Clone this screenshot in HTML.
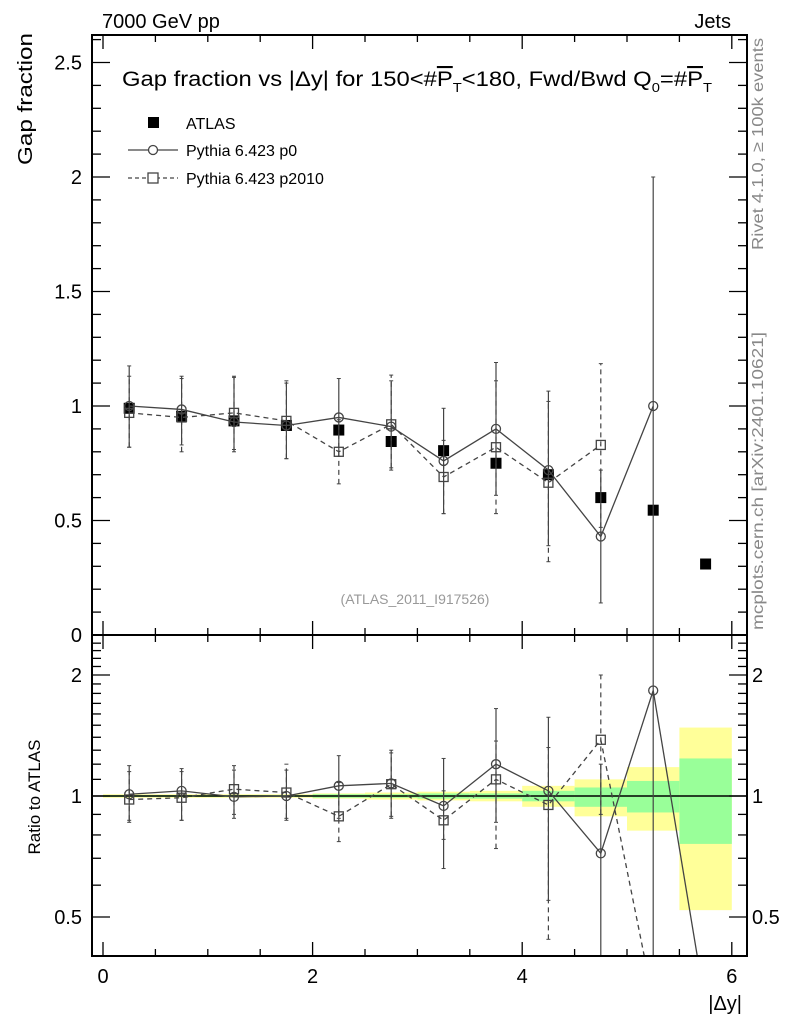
<!DOCTYPE html>
<html><head><meta charset="utf-8"><style>
html,body{margin:0;padding:0;background:#fff;overflow:hidden;width:786px;height:1024px;}
svg{display:block;font-family:"Liberation Sans",sans-serif;}
</style></head><body>
<svg id="chart" width="786" height="1024" viewBox="0 0 786 1024" xmlns="http://www.w3.org/2000/svg">
<g id="bands"></g>
<g id="marks"></g>
<g id="axes"></g>
<text x="102" y="28" font-size="20">7000 GeV pp</text>
<text x="731" y="28" font-size="20" text-anchor="end">Jets</text>
<text x="122" y="86" font-size="21" textLength="590" lengthAdjust="spacingAndGlyphs">Gap fraction vs |Δy| for 150&lt;#<tspan text-decoration="overline">P</tspan><tspan font-size="13" dy="6">T</tspan><tspan dy="-6">&lt;180, Fwd/Bwd Q</tspan><tspan font-size="13" dy="6">0</tspan><tspan dy="-6">=#</tspan><tspan text-decoration="overline">P</tspan><tspan font-size="13" dy="6">T</tspan></text>
<text transform="translate(32,165) rotate(-90)" font-size="20" textLength="132" lengthAdjust="spacingAndGlyphs">Gap fraction</text>
<text transform="translate(40,797) rotate(-90)" font-size="17" text-anchor="middle">Ratio to ATLAS</text>
<text x="742" y="1010" font-size="20" text-anchor="end">|Δy|</text>
<text x="415" y="604" font-size="14" fill="#999" text-anchor="middle">(ATLAS_2011_I917526)</text>
<text transform="translate(763,38) rotate(-90)" font-size="16" fill="#888" text-anchor="end" textLength="212" lengthAdjust="spacingAndGlyphs">Rivet 4.1.0, ≥ 100k events</text>
<text transform="translate(763,332) rotate(-90)" font-size="16" fill="#888" text-anchor="end" textLength="298" lengthAdjust="spacingAndGlyphs">mcplots.cern.ch [arXiv:2401.10621]</text>
<g>
<rect x="148" y="117" width="11" height="11" fill="#000"/>
<text x="186" y="129" font-size="16">ATLAS</text>
<line x1="128" y1="150" x2="178" y2="150" stroke="#444" stroke-width="1.3"/>
<circle cx="153" cy="150" r="4.5" fill="#fff" stroke="#444" stroke-width="1.3"/>
<text x="186" y="156" font-size="16">Pythia 6.423 p0</text>
<line x1="128" y1="178" x2="178" y2="178" stroke="#444" stroke-width="1.3" stroke-dasharray="4,3"/>
<rect x="148" y="173" width="10" height="10" fill="#fff" stroke="#444" stroke-width="1.3"/>
<text x="186" y="184" font-size="16">Pythia 6.423 p2010</text>
</g>
</svg>
<script>
const xs = [0.25,0.75,1.25,1.75,2.25,2.75,3.25,3.75,4.25,4.75,5.25,5.75];
const atlas = [0.99,0.955,0.935,0.915,0.895,0.845,0.805,0.75,0.70,0.60,0.545,0.31];
const p0 = [1.0,0.985,0.93,0.915,0.95,0.91,0.76,0.90,0.72,0.43,1.0];
const p0Lo = [0.82,0.83,0.81,0.77,0.78,0.72,0.53,0.61,0.39,0.14,0.0];
const p0Hi = [1.175,1.13,1.125,1.10,1.12,1.11,0.99,1.19,1.065,0.72,2.0];
const p2010 = [0.97,0.95,0.97,0.935,0.80,0.92,0.69,0.82,0.665,0.83];
const p2010Lo = [0.82,0.80,0.80,0.77,0.66,0.73,0.53,0.53,0.32,0.47];
const p2010Hi = [1.13,1.12,1.13,1.11,0.94,1.135,0.85,1.11,1.02,1.185];
const r0 = [1.01,1.03,0.995,1.0,1.06,1.075,0.945,1.2,1.03,0.72,1.83,0.3];
const r0Lo = [0.86,0.87,0.88,0.87,0.88,0.88,0.66,0.86,0.55,0.2,0.2];
const r0Hi = [1.19,1.17,1.16,1.16,1.26,1.28,1.24,1.65,1.57,1.2,3.0];
const r2010 = [0.98,0.99,1.04,1.02,0.89,1.07,0.87,1.10,0.95,1.38,0.31];
const r2010Lo = [0.87,0.87,0.9,0.88,0.77,0.89,0.78,0.74,0.44,0.9];
const r2010Hi = [1.15,1.15,1.19,1.2,1.08,1.3,1.03,1.37,1.32,2.0];
const binEdges = [0,0.5,1,1.5,2,2.5,3,3.5,4,4.5,5,5.5,6];
const yelLo = [0.99,0.99,0.99,0.99,0.985,0.98,0.975,0.97,0.94,0.89,0.82,0.52];
const yelHi = [1.01,1.01,1.01,1.01,1.015,1.02,1.025,1.03,1.06,1.10,1.18,1.48];
const grnLo = [0.995,0.995,0.995,0.995,0.99,0.99,0.985,0.985,0.97,0.94,0.91,0.76];
const grnHi = [1.005,1.005,1.005,1.005,1.01,1.01,1.015,1.015,1.03,1.05,1.09,1.24];
const topTicks = [0,0.5,1,1.5,2,2.5];
const topTickLabels = ["0","0.5","1","1.5","2","2.5"];
const ratioTicks = [0.5,1,2];
const ratioTickLabels = ["0.5","1","2"];
const xTicks = [0,2,4,6];
const xTickLabels = ["0","2","4","6"];

const L=92,R=747,T=35,M=635,B=956;
const X=v=>103+v*104.8;
const Y=v=>635-v*229;
const YR=v=>796-121*Math.log2(v);
const NS="http://www.w3.org/2000/svg";
function mk(par,tag,at){const e=document.createElementNS(NS,tag);for(const k in at)e.setAttribute(k,at[k]);par.appendChild(e);return e;}
const bands=document.getElementById('bands'),marks=document.getElementById('marks'),axes=document.getElementById('axes');
const defs=mk(document.getElementById('chart'),'defs',{});
const cp=mk(defs,'clipPath',{id:'cT'});mk(cp,'rect',{x:L,y:T,width:R-L,height:M-T});
const cp2=mk(defs,'clipPath',{id:'cR'});mk(cp2,'rect',{x:L,y:M,width:R-L,height:B-M});
const gT=mk(marks,'g',{'clip-path':'url(#cT)'});


const gR=mk(marks,'g',{'clip-path':'url(#cR)'});



for(let i=0;i<binEdges.length-1;i++){
  const x1=X(binEdges[i]),w=X(binEdges[i+1])-x1;
  const y=mk(bands,'rect',{x:x1,y:YR(yelHi[i]),width:w,height:YR(yelLo[i])-YR(yelHi[i]),fill:'#ffff99'});
  
  
  const g=mk(bands,'rect',{x:x1,y:YR(grnHi[i]),width:w,height:YR(grnLo[i])-YR(grnHi[i]),fill:'#99ff99'});
  
  
}
mk(gR,'line',{x1:L,x2:R,y1:YR(1),y2:YR(1),stroke:'#000','stroke-width':1.5});

function series(g,vals,lo,hi,fy,dash,shape,name){
  const pts=vals.map((v,i)=>X(xs[i])+','+fy(v)).join(' ');
  const pl=mk(g,'polyline',{points:pts,fill:'none',stroke:'#444','stroke-width':1.3,'stroke-dasharray':dash});
  
  
  vals.forEach((v,i)=>{
    const x=X(xs[i]);
    if(lo[i]!==undefined){
      const a=fy(Math.max(lo[i],1e-3)),b=fy(hi[i]);
      mk(g,'line',{x1:x,x2:x,y1:a,y2:b,stroke:'#444','stroke-width':1.2,'stroke-dasharray':dash});
      mk(g,'line',{x1:x-2,x2:x+2,y1:a,y2:a,stroke:'#444'});
      mk(g,'line',{x1:x-2,x2:x+2,y1:b,y2:b,stroke:'#444'});
    }
    if(i<lo.length){
      let m;
      if(shape==='c') m=mk(g,'circle',{cx:x,cy:fy(v),r:4.5,fill:'none',stroke:'#444','stroke-width':1.3});
      else m=mk(g,'rect',{x:x-4.5,y:fy(v)-4.5,width:9,height:9,fill:'none',stroke:'#444','stroke-width':1.3});
      
      
    }
  });
}
atlas.forEach((v,i)=>{
  const r=mk(gT,'rect',{x:X(xs[i])-5.5,y:Y(v)-5.5,width:11,height:11,fill:'#000'});
  
  
});
series(gT,p0,p0Lo,p0Hi,Y,'none','c','p0');
series(gT,p2010,p2010Lo,p2010Hi,Y,'5,4','s','p2010');
series(gR,r0,r0Lo,r0Hi,YR,'none','c','ratio-p0');
series(gR,r2010,r2010Lo,r2010Hi,YR,'5,4','s','ratio-p2010');

mk(axes,'rect',{x:L,y:T,width:R-L,height:M-T,fill:'none',stroke:'#000','stroke-width':2});
mk(axes,'rect',{x:L,y:M,width:R-L,height:B-M,fill:'none',stroke:'#000','stroke-width':2});
for(let k=0;k<=12;k++){const v=k*0.5,x=X(v),big=(k%4===0);const h=big?14:7;
  [[M,-1],[B,-1],[T,1],[M,1]].forEach(([y0,s])=>mk(axes,'line',{x1:x,x2:x,y1:y0,y2:y0+s*h,stroke:'#000','stroke-width':1.3}));}
xTicks.forEach((v,i)=>{const t=mk(axes,'text',{x:X(v),y:983,'font-size':20,'text-anchor':'middle'});t.textContent=xTickLabels[i];
  
  });
for(let k=0;k<=26;k++){const v=k*0.1,y=Y(v),big=(k%5===0),h=big?18:9;
  mk(axes,'line',{x1:L,x2:L+h,y1:y,y2:y,stroke:'#000','stroke-width':1.3});
  mk(axes,'line',{x1:R,x2:R-h,y1:y,y2:y,stroke:'#000','stroke-width':1.3});}
topTicks.forEach((v,i)=>{const t=mk(axes,'text',{x:82,y:Y(v)+7,'font-size':20,'text-anchor':'end'});t.textContent=topTickLabels[i];
  
  });
[0.4,0.5,0.6,0.7,0.8,0.9,1,1.1,1.2,1.3,1.4,1.5,1.6,1.7,1.8,1.9,2,2.1,2.2,2.3,2.4].forEach(v=>{const y=YR(v);if(y<M||y>B)return;
  const big=ratioTicks.includes(v),h=big?18:9;
  mk(axes,'line',{x1:L,x2:L+h,y1:y,y2:y,stroke:'#000','stroke-width':1.3});
  mk(axes,'line',{x1:R,x2:R-h,y1:y,y2:y,stroke:'#000','stroke-width':1.3});});
ratioTicks.forEach((v,i)=>{
  const t=mk(axes,'text',{x:82,y:YR(v)+7,'font-size':20,'text-anchor':'end'});t.textContent=ratioTickLabels[i];
  
  
  const t2=mk(axes,'text',{x:752,y:YR(v)+7,'font-size':20});t2.textContent=ratioTickLabels[i];
  
  
});
</script>
</body></html>
